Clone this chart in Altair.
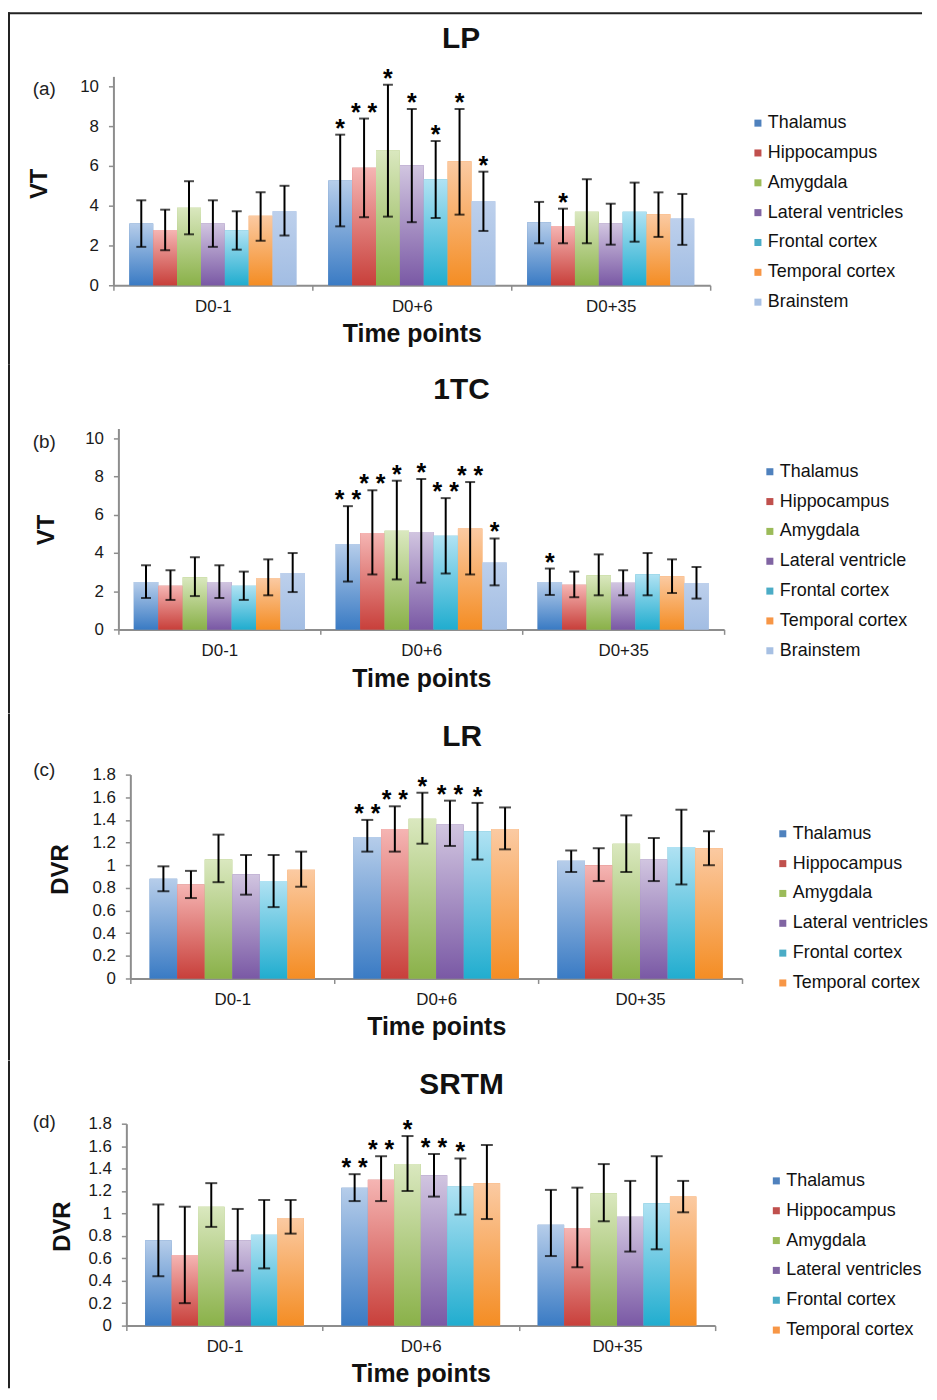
import altair as alt
import pandas as pd

FONT = "Liberation Sans"

TIME_POINTS = ["D0-1", "D0+6", "D0+35"]
REGIONS = ["Thalamus", "Hippocampus", "Amygdala", "Lateral ventricles",
           "Frontal cortex", "Temporal cortex", "Brainstem"]
REGIONS_1TC = ["Thalamus", "Hippocampus", "Amygdala", "Lateral ventricle",
               "Frontal cortex", "Temporal cortex", "Brainstem"]
REGIONS_DVR = REGIONS[:6]

LEGEND_COLORS = ["#4f81bd", "#c0504d", "#9bbb59", "#8064a2", "#4bacc6", "#f79646", "#a7c0e3"]
GRAD_TOP = ["#b6cdea", "#f5b5b3", "#dae8bf", "#d1c5e0", "#b0e2f3", "#fbcaa2", "#bdd0ec"]
GRAD_BOTTOM = ["#3a7bc4", "#c8403b", "#8ab149", "#7a59a5", "#21adcf", "#f48d24", "#a2bde3"]

# (a) LP  -- VT ; rows: D0-1, D0+6, D0+35
LP_MEAN = [[3.1, 2.78, 3.9, 3.1, 2.76, 3.5, 3.72],
           [5.26, 5.91, 6.78, 6.03, 5.33, 6.23, 4.22],
           [3.17, 2.98, 3.69, 3.1, 3.69, 3.57, 3.35]]
LP_LOW = [[1.93, 1.76, 2.56, 1.93, 1.79, 2.24, 2.5],
          [2.96, 3.42, 3.45, 3.17, 3.38, 3.55, 2.73],
          [2.11, 2.11, 2.11, 2.04, 2.19, 2.43, 2.03]]
LP_HIGH = [[4.27, 3.8, 5.23, 4.27, 3.72, 4.67, 5.0],
           [7.57, 8.38, 10.08, 8.86, 7.25, 8.86, 5.71],
           [4.19, 3.85, 5.33, 4.1, 5.16, 4.67, 4.59]]
LP_STARS = [["", "", "", "", "", "", ""],
            ["*", "**", "*", "*", "*", "*", "*"],
            ["", "*", "", "", "", "", ""]]

# (b) 1TC -- VT
TC_MEAN = [[2.47, 2.28, 2.73, 2.47, 2.28, 2.68, 2.95],
           [4.46, 5.04, 5.15, 5.09, 4.89, 5.27, 3.49],
           [2.47, 2.33, 2.83, 2.44, 2.88, 2.78, 2.42]]
TC_LOW = [[1.64, 1.54, 1.74, 1.64, 1.54, 1.78, 1.95],
          [2.5, 2.87, 2.61, 2.44, 2.92, 2.87, 2.3],
          [1.8, 1.68, 1.78, 1.78, 1.78, 1.9, 1.61]]
TC_HIGH = [[3.35, 3.09, 3.77, 3.35, 3.02, 3.66, 3.99],
           [6.44, 7.27, 7.77, 7.86, 6.86, 7.7, 4.75],
           [3.18, 3.02, 3.92, 3.09, 3.99, 3.66, 3.26]]
TC_STARS = [["", "", "", "", "", "", ""],
            ["**", "**", "*", "*", "**", "**", "*"],
            ["*", "", "", "", "", "", ""]]

# (c) LR -- DVR
LR_MEAN = [[0.88, 0.83, 1.05, 0.92, 0.86, 0.96],
           [1.25, 1.32, 1.41, 1.36, 1.3, 1.32],
           [1.04, 1.0, 1.19, 1.05, 1.16, 1.15]]
LR_LOW = [[0.77, 0.71, 0.85, 0.74, 0.63, 0.81],
          [1.12, 1.12, 1.19, 1.17, 1.05, 1.14],
          [0.94, 0.86, 0.94, 0.86, 0.83, 1.0]]
LR_HIGH = [[0.99, 0.95, 1.27, 1.09, 1.09, 1.12],
           [1.4, 1.52, 1.64, 1.57, 1.55, 1.51],
           [1.13, 1.15, 1.44, 1.24, 1.49, 1.3]]
LR_STARS = [["", "", "", "", "", ""],
            ["**", "**", "*", "**", "*", ""],
            ["", "", "", "", "", ""]]

# (d) SRTM -- DVR
SR_MEAN = [[0.76, 0.63, 1.06, 0.76, 0.81, 0.96],
           [1.23, 1.3, 1.44, 1.34, 1.24, 1.27],
           [0.9, 0.87, 1.18, 0.97, 1.09, 1.15]]
SR_LOW = [[0.44, 0.2, 0.88, 0.49, 0.51, 0.82],
          [1.11, 1.11, 1.2, 1.15, 0.99, 0.95],
          [0.62, 0.52, 0.93, 0.66, 0.68, 1.01]]
SR_HIGH = [[1.08, 1.06, 1.27, 1.04, 1.12, 1.12],
           [1.35, 1.51, 1.69, 1.53, 1.49, 1.61],
           [1.21, 1.23, 1.44, 1.29, 1.51, 1.29]]
SR_STARS = [["", "", "", "", "", ""],
            ["**", "**", "*", "**", "*", ""],
            ["", "", "", "", "", ""]]

VT_TICKS = [0, 2, 4, 6, 8, 10]
DVR_TICKS = [0, 0.2, 0.4, 0.6, 0.8, 1.0, 1.2, 1.4, 1.6, 1.8]

# common x of the plot origins (page px) shared by all stacked panels
ORIGIN_X = 131
FRAME_X = 8


def make_df(regions, mean, low, high, stars):
    rows = []
    for ti, t in enumerate(TIME_POINTS):
        for ri, r in enumerate(regions):
            s = stars[ti][ri]
            rows.append(dict(time=t, region=r, mean=mean[ti][ri], lo=low[ti][ri],
                             hi=high[ti][ri], star=" ".join(list(s))))
    return pd.DataFrame(rows)


def one(text):
    return pd.DataFrame({"t": [text]})


def make_panel(regions, mean, low, high, stars, lay, top_border=False):
    O = ORIGIN_X
    top = lay["top"]
    df = make_df(regions, mean, low, high, stars)
    n = len(regions)
    base = alt.Chart(df)
    x0 = lay["axis_x"] - O
    x1 = lay["right"] - O
    xaxis = alt.Axis(title="Time points", tickBand="extent", labelAngle=0,
                     labelPadding=8, titleFontSize=25, titleFontWeight="bold",
                     titleY=lay["xtitle_dy"], titleBaseline="middle", labelFontSize=17)
    x = alt.X("time:N", sort=TIME_POINTS,
              scale=alt.Scale(domain=TIME_POINTS, paddingInner=0, paddingOuter=0,
                              range=[x0, x1]),
              axis=xaxis)
    xo = alt.XOffset("region:N", sort=regions,
                     scale=alt.Scale(domain=regions, paddingInner=0,
                                     paddingOuter=lay["pad_outer"]))
    yscale = alt.Scale(domain=[0, lay["ymax"]], nice=False, zero=True)
    yaxis = alt.Axis(values=lay["yticks"], format=".1~f", title=lay["ytitle"],
                     offset=-x0,
                     titleX=lay["ytitle_xy"][0] - lay["axis_x"],
                     titleY=lay["ytitle_xy"][1] - top, titleAngle=270,
                     titleAlign="center", titleBaseline="middle",
                     titleFontSize=24, titleFontWeight="bold",
                     labelPadding=10, labelFontSize=17)

    def Y(field):
        return alt.Y(field, scale=yscale, axis=yaxis)

    layers = []
    layers.append(base.mark_bar().encode(
        x=x, xOffset=xo, y=Y("mean:Q"),
        color=alt.Color("region:N", sort=regions,
                        scale=alt.Scale(domain=regions, range=LEGEND_COLORS[:n]),
                        legend=alt.Legend(orient="none",
                                          legendX=lay["legend_xy"][0] - O,
                                          legendY=lay["legend_xy"][1] - top,
                                          title=None,
                                          symbolType="square", symbolSize=50,
                                          symbolStrokeWidth=0, labelFontSize=18,
                                          labelFont=FONT, labelColor="#111111",
                                          rowPadding=12, labelOffset=1, padding=0))))
    for i, r in enumerate(regions):
        grad = alt.Gradient(gradient="linear",
                            stops=[alt.GradientStop(color=GRAD_TOP[i], offset=0),
                                   alt.GradientStop(color=GRAD_BOTTOM[i], offset=1)],
                            x1=0, x2=0, y1=0, y2=1)
        layers.append(base.transform_filter(alt.datum.region == r)
                      .mark_bar(fill=grad)
                      .encode(x=x, xOffset=xo, y=Y("mean:Q")))
    layers.append(base.mark_rule(color="black", strokeWidth=2).encode(
        x=x, xOffset=xo, y=Y("lo:Q"), y2="hi:Q"))
    layers.append(base.mark_tick(color="black", thickness=2, size=lay["cap"],
                                 orient="horizontal").encode(x=x, xOffset=xo, y=Y("hi:Q")))
    layers.append(base.mark_tick(color="black", thickness=2, size=lay["cap"],
                                 orient="horizontal").encode(x=x, xOffset=xo, y=Y("lo:Q")))
    layers.append(base.transform_filter(alt.datum.star != "")
                  .mark_text(font=FONT, fontSize=25, fontWeight="bold",
                             baseline="alphabetic", dy=2, color="black")
                  .encode(x=x, xOffset=xo, y=Y("hi:Q"), text="star:N"))
    # panel title and label
    layers.append(alt.Chart(one(lay["title"])).mark_text(
        font=FONT, fontSize=30, fontWeight="bold", align="center",
        baseline="middle", color="#111111").encode(
        x=alt.value(lay["title_xy"][0] - O), y=alt.value(lay["title_xy"][1] - top),
        text="t:N"))
    layers.append(alt.Chart(one(lay["label"])).mark_text(
        font=FONT, fontSize=19, align="center", baseline="middle",
        color="#222222").encode(
        x=alt.value(lay["label_xy"][0] - O), y=alt.value(lay["label_xy"][1] - top),
        text="t:N"))
    # frame pieces (they also fix each panel's vertical extent)
    layers.append(alt.Chart(one("b")).mark_rect(color="#222222").encode(
        x=alt.value(FRAME_X - O), x2=alt.value(FRAME_X - O + 2),
        y=alt.value(lay["band"][0]), y2=alt.value(lay["band"][1])))
    if top_border:
        layers.append(alt.Chart(one("t")).mark_rect(color="#222222").encode(
            x=alt.value(FRAME_X - O), x2=alt.value(927 - O),
            y=alt.value(lay["band"][0]), y2=alt.value(lay["band"][0] + 2)))
    return alt.layer(*layers).properties(width=x1, height=lay["height"])


LAY_A = dict(axis_x=114, right=714, top=77, height=210, ymax=10.5, yticks=VT_TICKS,
             ytitle="VT", title="LP", label="(a)", pad_outer=0.667, cap=10,
             legend_xy=(753, 115), title_xy=(463.5, 39), label_xy=(44.5, 89.5),
             ytitle_xy=(39.5, 184.5), xtitle_dy=49, band=(-64.5, 290))
LAY_B = dict(axis_x=119, right=728, top=429, height=202, ymax=10.5, yticks=VT_TICKS,
             ytitle="VT", title="1TC", label="(b)", pad_outer=0.63, cap=10,
             legend_xy=(765, 463.5), title_xy=(464, 390), label_xy=(44.5, 443),
             ytitle_xy=(46.5, 530.5), xtitle_dy=49, band=(-64, 286))
LAY_C = dict(axis_x=131, right=746, top=773.5, height=205, ymax=1.8, yticks=DVR_TICKS,
             ytitle="DVR", title="LR", label="(c)", pad_outer=0.7, cap=12,
             legend_xy=(778, 824), title_xy=(464.5, 735.5), label_xy=(44.5, 768.5),
             ytitle_xy=(61, 868.5), xtitle_dy=48.5, band=(-61.5, 287.5))
LAY_D = dict(axis_x=127, right=719, top=1121, height=203, ymax=1.8, yticks=DVR_TICKS,
             ytitle="DVR", title="SRTM", label="(d)", pad_outer=0.71, cap=12,
             legend_xy=(771.5, 1169.5), title_xy=(464, 1082.5), label_xy=(44.5, 1119),
             ytitle_xy=(62.5, 1224), xtitle_dy=48, band=(-63, 266))

pa = make_panel(REGIONS, LP_MEAN, LP_LOW, LP_HIGH, LP_STARS, LAY_A, top_border=True)
pb = make_panel(REGIONS_1TC, TC_MEAN, TC_LOW, TC_HIGH, TC_STARS, LAY_B)
pc = make_panel(REGIONS_DVR, LR_MEAN, LR_LOW, LR_HIGH, LR_STARS, LAY_C)
pd_ = make_panel(REGIONS_DVR, SR_MEAN, SR_LOW, SR_HIGH, SR_STARS, LAY_D)

chart = (alt.vconcat(pa, pb, pc, pd_, spacing=0, padding=0)
         .resolve_scale(color="independent", x="independent", y="independent",
                        xOffset="independent")
         .properties(background="white")
         .configure_view(stroke=None)
         .configure_axis(labelFont=FONT, titleFont=FONT, domainColor="#8d8d8d",
                         domainWidth=2, tickColor="#8d8d8d", tickWidth=1.5,
                         tickSize=5, labelColor="#1a1a1a", titleColor="#111111",
                         grid=False))

chart.save("out.html", embed_options={"renderer": "svg", "actions": False})
